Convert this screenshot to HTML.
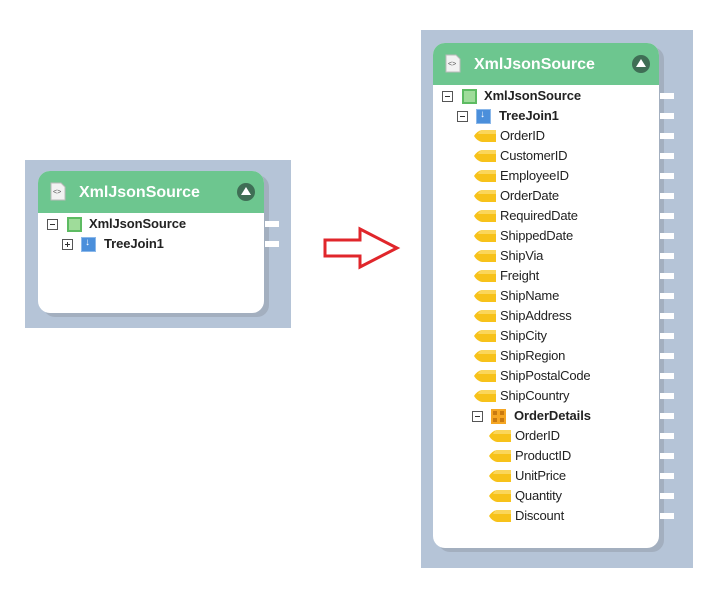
<!DOCTYPE html>
<html><head><meta charset="utf-8"><style>
body{margin:0;width:725px;height:596px;background:#fff;position:relative;overflow:hidden;font-family:"Liberation Sans",Arial,sans-serif;}
.a{position:absolute}
.panel{background:#b5c4d7}
.card{background:#fff;border-radius:12px;box-shadow:5px 4px 0 #a3afbf}
.hdr{background:#6dc68f;border-radius:12px 12px 0 0;color:#fff;font-weight:bold;font-size:16px}
.t{position:absolute;font-size:13px;color:#222;line-height:16px;white-space:nowrap;letter-spacing:-0.2px}
.b{font-weight:bold;letter-spacing:-0.1px}
.mb{position:absolute;width:9px;height:9px;border:1px solid #555;background:#fff}
.mb:before{content:"";position:absolute;left:2px;top:4px;width:5px;height:1px;background:#333}
.pl:after{content:"";position:absolute;left:4px;top:2px;width:1px;height:5px;background:#333}
.gs{position:absolute;width:11px;height:11px;background:#9fdc9a;border:2px solid #5dbb62}
.bs{position:absolute;width:13px;height:13px;background:#4b8fdb;border:1px solid #8bb8ea}
.bs:after{content:"↓";position:absolute;left:3px;top:-1px;color:#fff;font-size:10px;font-weight:bold}
.port{position:absolute;width:14px;height:6px;background:#fff}
.tag{position:absolute;width:22px;height:12px}
.up{position:absolute;width:18px;height:18px;border-radius:50%;background:#3f6e55}
.up:after{content:"";position:absolute;left:4px;top:4px;border-left:5px solid transparent;border-right:5px solid transparent;border-bottom:8px solid #fff}
</style></head><body>
<!-- left -->
<div class="a panel" style="left:25px;top:160px;width:266px;height:168px"></div>
<div class="a card" style="left:38px;top:171px;width:226px;height:142px"></div>
<div class="a hdr" style="left:38px;top:171px;width:226px;height:42px"></div>
<svg class="a" style="left:50px;top:182px" width="16" height="19"><path d="M1 1h10l4 4v13H1z" fill="#f2f2f2" stroke="#bbb"/><text x="3" y="12" font-size="7" fill="#555" font-family="Liberation Sans">&lt;&gt;</text></svg>
<div class="a" style="left:79px;top:184px;color:#fff;font-weight:bold;font-size:16px">XmlJsonSource</div>
<div class="up" style="left:237px;top:183px"></div>
<div class="mb" style="left:47px;top:219px"></div>
<div class="gs" style="left:67px;top:217px"></div>
<div class="t b" style="left:89px;top:216px">XmlJsonSource</div>
<div class="mb pl" style="left:62px;top:239px"></div>
<div class="bs" style="left:81px;top:237px"></div>
<div class="t b" style="left:104px;top:236px">TreeJoin1</div>
<div class="port" style="left:265px;top:221px"></div>
<div class="port" style="left:265px;top:241px"></div>
<!-- arrow -->
<svg class="a" style="left:320px;top:225px" width="85" height="48"><path d="M5 15H40V4L77 23L40 42V31H5Z" fill="#fff" stroke="#e0262b" stroke-width="3"/></svg>
<!-- right -->
<div class="a panel" style="left:421px;top:30px;width:272px;height:538px"></div>
<div class="a card" style="left:433px;top:43px;width:226px;height:505px"></div>
<div class="a hdr" style="left:433px;top:43px;width:226px;height:42px"></div>
<svg class="a" style="left:445px;top:54px" width="16" height="19"><path d="M1 1h10l4 4v13H1z" fill="#f2f2f2" stroke="#bbb"/><text x="3" y="12" font-size="7" fill="#555" font-family="Liberation Sans">&lt;&gt;</text></svg>
<div class="a" style="left:474px;top:56px;color:#fff;font-weight:bold;font-size:16px">XmlJsonSource</div>
<div class="up" style="left:632px;top:55px"></div>
<div class="mb" style="left:442px;top:91px"></div>
<div class="gs" style="left:462px;top:89px"></div>
<div class="t b" style="left:484px;top:88px">XmlJsonSource</div>
<div class="mb" style="left:457px;top:111px"></div>
<div class="bs" style="left:476px;top:109px"></div>
<div class="t b" style="left:499px;top:108px">TreeJoin1</div>
<div class="mb" style="left:472px;top:411px"></div>
<div class="a" style="left:491px;top:409px;width:15px;height:15px;background:#f5a623"><div class="a" style="left:2px;top:2px;width:4px;height:4px;background:#c97a10"></div><div class="a" style="left:9px;top:2px;width:4px;height:4px;background:#c97a10"></div><div class="a" style="left:2px;top:9px;width:4px;height:4px;background:#c97a10"></div><div class="a" style="left:9px;top:9px;width:4px;height:4px;background:#c97a10"></div></div>
<div class="t b" style="left:514px;top:408px">OrderDetails</div>
<svg width="0" height="0" style="position:absolute"><defs><symbol id="tg" viewBox="0 0 22 12"><path d="M0 6Q3 1 8 0H22V12H8Q3 11 0 6Z" fill="#f7c21a"/><path d="M8 0H22V4H4Q5 1 8 0Z" fill="#fbd65a"/></symbol></defs></svg>
<svg class="tag" style="left:474px;top:130px"><use href="#tg"/></svg><div class="t" style="left:500px;top:128px">OrderID</div>
<svg class="tag" style="left:474px;top:150px"><use href="#tg"/></svg><div class="t" style="left:500px;top:148px">CustomerID</div>
<svg class="tag" style="left:474px;top:170px"><use href="#tg"/></svg><div class="t" style="left:500px;top:168px">EmployeeID</div>
<svg class="tag" style="left:474px;top:190px"><use href="#tg"/></svg><div class="t" style="left:500px;top:188px">OrderDate</div>
<svg class="tag" style="left:474px;top:210px"><use href="#tg"/></svg><div class="t" style="left:500px;top:208px">RequiredDate</div>
<svg class="tag" style="left:474px;top:230px"><use href="#tg"/></svg><div class="t" style="left:500px;top:228px">ShippedDate</div>
<svg class="tag" style="left:474px;top:250px"><use href="#tg"/></svg><div class="t" style="left:500px;top:248px">ShipVia</div>
<svg class="tag" style="left:474px;top:270px"><use href="#tg"/></svg><div class="t" style="left:500px;top:268px">Freight</div>
<svg class="tag" style="left:474px;top:290px"><use href="#tg"/></svg><div class="t" style="left:500px;top:288px">ShipName</div>
<svg class="tag" style="left:474px;top:310px"><use href="#tg"/></svg><div class="t" style="left:500px;top:308px">ShipAddress</div>
<svg class="tag" style="left:474px;top:330px"><use href="#tg"/></svg><div class="t" style="left:500px;top:328px">ShipCity</div>
<svg class="tag" style="left:474px;top:350px"><use href="#tg"/></svg><div class="t" style="left:500px;top:348px">ShipRegion</div>
<svg class="tag" style="left:474px;top:370px"><use href="#tg"/></svg><div class="t" style="left:500px;top:368px">ShipPostalCode</div>
<svg class="tag" style="left:474px;top:390px"><use href="#tg"/></svg><div class="t" style="left:500px;top:388px">ShipCountry</div>
<svg class="tag" style="left:489px;top:430px"><use href="#tg"/></svg><div class="t" style="left:515px;top:428px">OrderID</div>
<svg class="tag" style="left:489px;top:450px"><use href="#tg"/></svg><div class="t" style="left:515px;top:448px">ProductID</div>
<svg class="tag" style="left:489px;top:470px"><use href="#tg"/></svg><div class="t" style="left:515px;top:468px">UnitPrice</div>
<svg class="tag" style="left:489px;top:490px"><use href="#tg"/></svg><div class="t" style="left:515px;top:488px">Quantity</div>
<svg class="tag" style="left:489px;top:510px"><use href="#tg"/></svg><div class="t" style="left:515px;top:508px">Discount</div>
<div class="port" style="left:660px;top:93px"></div>
<div class="port" style="left:660px;top:113px"></div>
<div class="port" style="left:660px;top:133px"></div>
<div class="port" style="left:660px;top:153px"></div>
<div class="port" style="left:660px;top:173px"></div>
<div class="port" style="left:660px;top:193px"></div>
<div class="port" style="left:660px;top:213px"></div>
<div class="port" style="left:660px;top:233px"></div>
<div class="port" style="left:660px;top:253px"></div>
<div class="port" style="left:660px;top:273px"></div>
<div class="port" style="left:660px;top:293px"></div>
<div class="port" style="left:660px;top:313px"></div>
<div class="port" style="left:660px;top:333px"></div>
<div class="port" style="left:660px;top:353px"></div>
<div class="port" style="left:660px;top:373px"></div>
<div class="port" style="left:660px;top:393px"></div>
<div class="port" style="left:660px;top:413px"></div>
<div class="port" style="left:660px;top:433px"></div>
<div class="port" style="left:660px;top:453px"></div>
<div class="port" style="left:660px;top:473px"></div>
<div class="port" style="left:660px;top:493px"></div>
<div class="port" style="left:660px;top:513px"></div>
</body></html>
